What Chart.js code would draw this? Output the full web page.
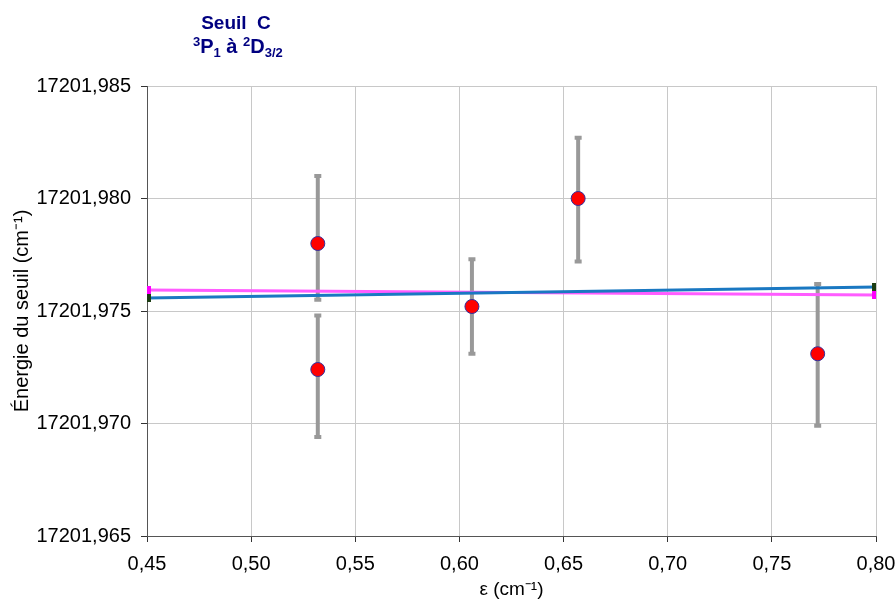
<!DOCTYPE html>
<html>
<head>
<meta charset="utf-8">
<script src="https://cdn.jsdelivr.net/npm/chart.js@4.4.0/dist/chart.umd.min.js"></script>
<style>
  html, body { margin: 0; padding: 0; background: #fff; }
  #wrap { width: 896px; height: 601px; }
</style>
</head>
<body>
<div id="wrap"><canvas id="chart" width="896" height="601"></canvas></div>
<script>
// Données
const epsilon = [0.532, 0.532, 0.606, 0.657, 0.772];
const energie = [17201.9780, 17201.9724, 17201.9752, 17201.9800, 17201.9731];
const errHaut = [17201.9810, 17201.9748, 17201.9773, 17201.9827, 17201.9762];
const errBas = [17201.9755, 17201.9694, 17201.9731, 17201.9772, 17201.9699];

const ajustBleuX = [0.45, 0.80];
const ajustBleuY = [17201.97558, 17201.97607];
const ajustRoseX = [0.45, 0.80];
const ajustRoseY = [17201.97593, 17201.97571];

const xTicks = [0.45, 0.50, 0.55, 0.60, 0.65, 0.70, 0.75, 0.80];
const yTicks = [17201.965, 17201.970, 17201.975, 17201.980, 17201.985];

const FONT = '"Liberation Sans", Arial, sans-serif';

function toPts(xs, ys) {
  return xs.map((x, i) => ({ x: x, y: ys[i] }));
}

// Barres d'erreur
const errorBars = {
  id: "errorBars",
  beforeDatasetsDraw(chart) {
    const { ctx, scales } = chart;
    ctx.save();
    ctx.strokeStyle = "#999999";
    ctx.fillStyle = "#999999";
    ctx.lineWidth = 4;
    epsilon.forEach((e, i) => {
      const px = scales.x.getPixelForValue(e);
      const top = scales.y.getPixelForValue(errHaut[i]);
      const bot = scales.y.getPixelForValue(errBas[i]);
      ctx.beginPath();
      ctx.moveTo(px, top);
      ctx.lineTo(px, bot);
      ctx.stroke();
      ctx.fillRect(px - 3.5, top - 2, 7, 4);
      ctx.fillRect(px - 3.5, bot - 2, 7, 4);
    });
    ctx.restore();
  },
};

// Titre avec exposants / indices
const titre = {
  id: "titre",
  afterDraw(chart) {
    const ctx = chart.ctx;
    ctx.save();
    ctx.fillStyle = "#000080";
    ctx.textBaseline = "alphabetic";
    ctx.font = "bold 19px " + FONT;
    ctx.textAlign = "center";
    ctx.fillText("Seuil  C", 236, 29);
    ctx.textAlign = "left";
    const parts = [
      ["3", 13, -7],
      ["P", 20, 0],
      ["1", 13, 4],
      [" à ", 20, 0],
      ["2", 13, -7],
      ["D", 20, 0],
      ["3/2", 13, 4],
    ];
    let x = 193;
    parts.forEach(([t, s, dy]) => {
      ctx.font = "bold " + s + "px " + FONT;
      ctx.fillText(t, x, 53 + dy);
      x += ctx.measureText(t).width;
    });
    ctx.restore();
  },
};

const fmtX = (v) => Number(v).toFixed(2).replace(".", ",");
const fmtY = (v) => Number(v).toFixed(3).replace(".", ",");

new Chart(document.getElementById("chart"), {
  type: "scatter",
  data: {
    datasets: [
      {
        label: "Mesures",
        data: toPts(epsilon, energie),
        pointRadius: 7,
        pointBackgroundColor: "#ff0000",
        pointBorderColor: "#3030a0",
        pointBorderWidth: 1,
        showLine: false,
        order: 1,
      },
      {
        label: "Ajustement",
        data: toPts(ajustRoseX, ajustRoseY),
        showLine: true,
        borderColor: "#ff5cff",
        borderWidth: 3,
        pointStyle: "rect",
        pointRadius: 3.5,
        pointBackgroundColor: "#ff00ff",
        pointBorderColor: "#ff00ff",
        order: 3,
      },
      {
        label: "Ajustement 2",
        data: toPts(ajustBleuX, ajustBleuY),
        showLine: true,
        borderColor: "#1a78c2",
        borderWidth: 3,
        pointStyle: "rect",
        pointRadius: 3.5,
        pointBackgroundColor: "#1b3d12",
        pointBorderColor: "#1b3d12",
        order: 2,
      },
    ],
  },
  options: {
    responsive: false,
    animation: false,
    layout: { padding: { top: 86, right: 20, left: 0, bottom: 0 } },
    plugins: {
      legend: { display: false },
      tooltip: { enabled: false },
    },
    scales: {
      x: {
        type: "linear",
        min: 0.45,
        max: 0.8,
        afterBuildTicks: (s) => { s.ticks = xTicks.map((v) => ({ value: v })); },
        afterFit: (s) => { s.height = 65; s.paddingLeft = 0; s.paddingRight = 0; },
        ticks: { callback: fmtX, color: "#000", font: { family: FONT, size: 20 }, padding: 10, maxRotation: 0 },
        grid: { color: "#c8c8c8", tickColor: "#333", tickLength: 6 },
        border: { color: "#555", width: 1 },
        title: {
          display: true,
          text: "ε (cm⁻¹)",
          color: "#000",
          font: { family: FONT, size: 19 },
          padding: { top: 0, bottom: 0 },
        },
      },
      y: {
        type: "linear",
        min: 17201.965,
        max: 17201.985,
        afterBuildTicks: (s) => { s.ticks = yTicks.map((v) => ({ value: v })); },
        afterFit: (s) => { s.width = 147; s.paddingTop = 0; s.paddingBottom = 0; },
        ticks: { callback: fmtY, color: "#000", font: { family: FONT, size: 20 }, padding: 10 },
        grid: { color: "#c8c8c8", tickColor: "#333", tickLength: 6 },
        border: { color: "#555", width: 1 },
        title: {
          display: true,
          text: "Énergie du seuil (cm⁻¹)",
          color: "#000",
          font: { family: FONT, size: 20 },
          padding: { top: 10, bottom: 0 },
        },
      },
    },
  },
  plugins: [errorBars, titre],
});
</script>
</body>
</html>
